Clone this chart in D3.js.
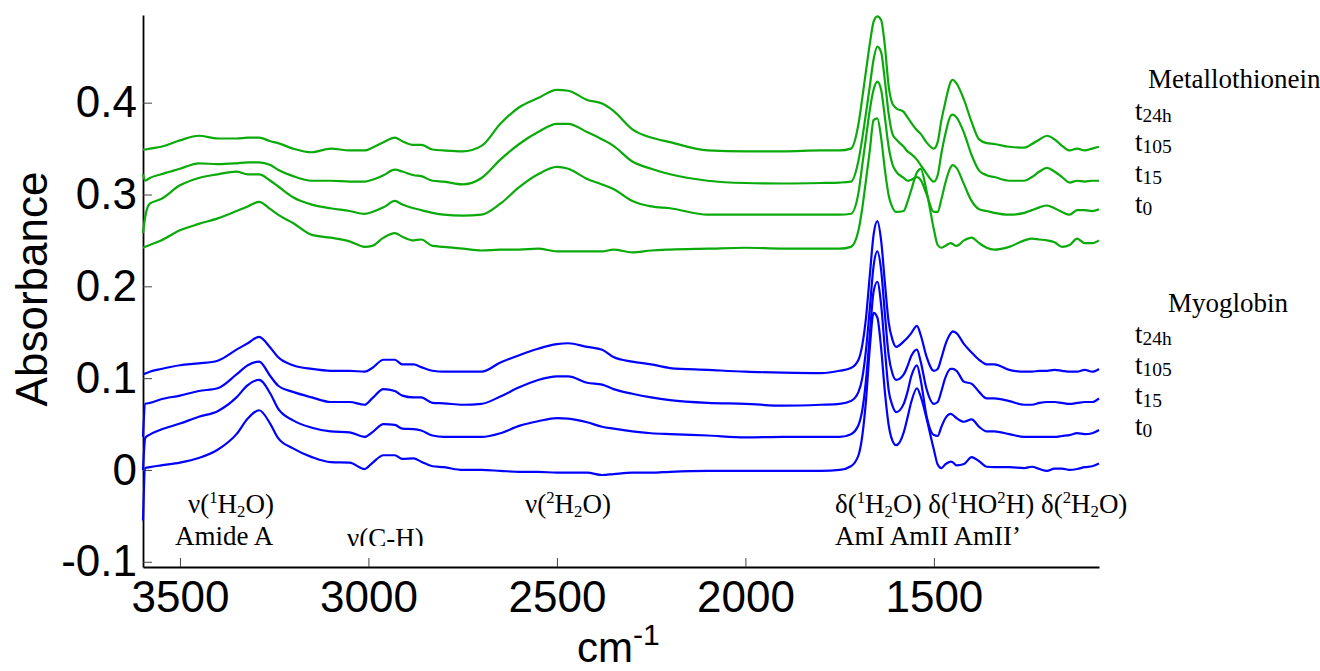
<!DOCTYPE html>
<html>
<head>
<meta charset="utf-8">
<script src="https://cdn.jsdelivr.net/npm/d3@7"></script>
<style>
  body { margin:0; background:#fff; }
  svg { display:block; }
</style>
</head>
<body>
<svg id="chart" width="1320" height="671"></svg>
<script>
// wavenumbers (cm-1) shared by every spectrum, high to low
const wavenumbers=[
  3598,3592,3580,3550,3500,3450,3400,3350,3320,3290,3260,3240,3200,3150,3100,3050,3010,2990,2960,2930,2910,2880,2860,2830,2800,
  2750,2700,2650,2600,2550,2500,2470,2420,2380,2350,2300,2250,2200,2100,2000,1900,1800,1750,
  1720,1700,1690,1680,1670,1660,1650,1640,1630,1620,1610,1600,1580,1570,1560,1545,1535,1520,1500,1490,
  1480,1470,1455,1450,1440,1420,1400,1380,1360,1340,1300,1260,1240,1220,1200,1180,1160,1140,1120,1100,1080,1062
];

// Metallothionein (green)
const mtT24h=[
  .349,.349,.350,.352,.359,.364,.361,.361,.362,.362,.358,.356,.350,.346,.350,.348,.348,.351,.357,.362,.358,.354,.354,.349,.348,
  .347,.353,.377,.395,.405,.414,.413,.403,.399,.391,.371,.362,.357,.348,.347,.347,.348,.348,
  .350,.377,.405,.435,.464,.488,.494,.490,.462,.418,.399,.394,.390,.384,.378,.370,.366,.357,.350,.357,
  .381,.400,.423,.425,.421,.403,.379,.360,.356,.355,.352,.351,.355,.360,.364,.360,.353,.348,.350,.348,.350,.352
];
const mtT105=[
  .322,.315,.318,.322,.328,.334,.333,.334,.335,.335,.332,.327,.320,.315,.315,.314,.314,.316,.321,.327,.325,.321,.320,.315,.314,
  .311,.318,.338,.355,.368,.377,.377,.368,.360,.353,.336,.328,.322,.315,.3125,.312,.3125,.313,
  .314,.337,.361,.389,.418,.447,.461,.455,.424,.388,.366,.360,.352,.347,.344,.338,.332,.323,.314,.321,
  .345,.365,.386,.387,.384,.367,.343,.326,.321,.319,.315,.315,.319,.325,.329,.325,.319,.313,.315,.314,.315,.315
];
const mtT15=[
  .258,.276,.290,.295,.310,.318,.322,.325,.322,.322,.315,.309,.297,.289,.285,.282,.279,.281,.286,.293,.289,.285,.283,.280,.278,
  .277,.278,.290,.308,.322,.330,.328,.317,.311,.306,.293,.287,.285,.278,.278,.278,.278,.278,
  .279,.302,.332,.362,.392,.414,.423,.414,.384,.352,.333,.325,.318,.315,.316,.319,.316,.301,.281,.281,
  .295,.312,.330,.332,.329,.311,.293,.284,.282,.280,.278,.280,.283,.286,.288,.285,.281,.278,.283,.283,.282,.284
];
const mtT0=[
  .242,.243,.245,.250,.261,.268,.274,.282,.287,.292,.284,.278,.269,.256,.253,.249,.243,.244,.253,.258,.254,.250,.251,.244,.243,
  .241,.239,.240,.240,.241,.238,.238,.238,.238,.240,.237,.239,.240,.241,.242,.241,.241,.241,
  .243,.261,.285,.316,.348,.381,.383,.362,.327,.299,.286,.281,.282,.292,.305,.324,.328,.305,.262,.245,
  .242,.244,.247,.246,.244,.250,.253,.247,.242,.240,.243,.250,.252,.251,.250,.248,.243,.245,.252,.247,.247,.250
];

// Myoglobin (blue)
const mbT24h=[
  .104,.105,.107,.110,.114,.116,.119,.131,.138,.145,.133,.123,.114,.110,.108,.108,.107,.111,.120,.120,.115,.115,.112,.108,.107,
  .107,.107,.117,.125,.132,.137,.138,.134,.131,.123,.118,.115,.111,.109,.107,.106,.1055,.108,
  .111,.120,.136,.166,.212,.256,.271,.250,.204,.161,.142,.134,.140,.144,.149,.157,.147,.124,.108,.110,
  .122,.136,.149,.151,.149,.137,.128,.120,.115,.115,.109,.107,.107,.108,.108,.109,.108,.107,.107,.109,.107,.110
];
const mbT105=[
  .036,.072,.073,.077,.081,.086,.089,.104,.114,.118,.102,.092,.085,.079,.074,.074,.071,.078,.088,.086,.081,.079,.079,.073,.0725,
  .071,.072,.080,.090,.098,.102,.102,.095,.093,.088,.083,.079,.076,.073,.072,.070,.071,.072,
  .075,.085,.100,.131,.176,.222,.238,.218,.170,.125,.105,.098,.104,.113,.124,.131,.118,.089,.072,.074,
  .086,.100,.110,.110,.108,.096,.094,.085,.078,.078,.075,.071,.071,.073,.074,.074,.073,.072,.073,.074,.074,.078
];
const mbT15=[
  .000,.035,.0385,.044,.0505,.058,.064,.079,.0925,.098,.083,.067,.054,.046,.042,.041,.036,.041,.050,.049,.045,.0445,.043,.0375,.036,
  .036,.036,.040,.048,.053,.0565,.056,.052,.047,.045,.042,.040,.039,.0375,.0355,.036,.036,.036,
  .039,.049,.065,.098,.147,.194,.205,.180,.131,.087,.070,.063,.072,.085,.102,.114,.098,.060,.038,.037,
  .047,.056,.061,.060,.0565,.0525,.055,.047,.042,.042,.039,.036,.036,.036,.036,.036,.037,.038,.040,.039,.040,.0435
];
const mbT0=[
  -.055,.002,.003,.005,.008,.013,.022,.039,.056,.065,.050,.035,.0235,.014,.0085,.008,.001,.0075,.016,.016,.012,.0125,.009,.004,.003,
  .000,.000,-.001,-.002,-.002,-.003,-.003,-.003,-.0055,-.0045,-.003,-.003,-.002,-.001,-.001,-.001,-.001,.000,
  .004,.016,.037,.076,.133,.171,.166,.133,.085,.049,.032,.027,.041,.057,.074,.089,.080,.057,.022,.006,
  .002,.006,.009,.0085,.005,.0065,.014,.0095,.0035,.003,.003,.002,.0035,.001,-.001,.0015,.0015,.000,.001,.003,.004,.007
];

const timeLabels=["24h","105","15","0"];
const yTicks=[-0.1,0,0.1,0.2,0.3,0.4];
const xTicks=[3500,3000,2500,2000,1500];

const metallothionein=[mtT24h,mtT105,mtT15,mtT0];
const myoglobin=[mbT24h,mbT105,mbT15,mbT0];

const sans="'Liberation Sans', Arial, sans-serif";
const serif="'Liberation Serif', 'Times New Roman', serif";
const greenColor="#0aaa0a";
const blueColor="#0000ff";
const noteSize=27;

const svg=d3.select("#chart");

const x=d3.scaleLinear().domain([3598,1062]).range([143,1099]);
const y=d3.scaleLinear().domain([-0.1057,0.4955]).range([567,15]);

// axes (ticks point inward)
const yAxisG=svg.append("g").attr("transform","translate(143,0)")
  .call(d3.axisLeft(y).tickValues(yTicks).tickFormat(d=>String(d))
    .tickSizeInner(-9).tickSizeOuter(0).tickPadding(6));
const xAxisG=svg.append("g").attr("transform","translate(0,567)")
  .call(d3.axisBottom(x).tickValues(xTicks).tickFormat(d=>String(d))
    .tickSizeInner(-9).tickSizeOuter(0).tickPadding(14));

[yAxisG,xAxisG].forEach(g=>{
  g.attr("font-size",44).attr("font-family",sans);
  g.select(".domain").attr("stroke","#000").attr("stroke-width",1.8);
  g.selectAll(".tick line").attr("stroke","#444").attr("stroke-width",1);
  g.selectAll(".tick text").attr("fill","#000");
});

// spectra
const line=d3.line()
  .x((d,i)=>x(wavenumbers[i]))
  .y(d=>y(d))
  .curve(d3.curveMonotoneX);

function drawGroup(series, color) {
  svg.append("g").selectAll("path").data(series).join("path")
    .attr("d",line)
    .attr("fill","none")
    .attr("stroke",color)
    .attr("stroke-width",2.2)
    .attr("stroke-linejoin","round");
}
drawGroup(metallothionein,greenColor);
drawGroup(myoglobin,blueColor);

// text with super/subscripts
function richText(g, px, py, parts, size) {
  const t=g.append("text").attr("x",px).attr("y",py)
    .attr("font-family",serif).attr("font-size",size).attr("fill","#000");
  let shift=0;
  parts.forEach(([s,kind])=>{
    let target=0, fs=size;
    if (kind==="sup") { target=-0.36*size; fs=size*0.62; }
    if (kind==="sub") { target=0.16*size; fs=size*0.62; }
    if (kind==="lsub") { target=0.08*size; fs=size*0.72; }
    t.append("tspan").attr("dy",target-shift).attr("font-size",fs).text(s);
    shift=target;
  });
  return t;
}

const notes=svg.append("g");
richText(notes,188,513,[["ν(",0],["1","sup"],["H",0],["2","sub"],["O)",0]],noteSize);
richText(notes,175,545,[["Amide A",0]],noteSize);

svg.append("clipPath").attr("id","cut").append("rect")
  .attr("x",0).attr("y",0).attr("width",1320).attr("height",546);
richText(notes,347,547,[["ν(C-H)",0]],noteSize).attr("clip-path","url(#cut)");

richText(notes,525,513,[["ν(",0],["2","sup"],["H",0],["2","sub"],["O)",0]],noteSize);
richText(notes,835,513,[
  ["δ(",0],["1","sup"],["H",0],["2","sub"],["O) δ(",0],["1","sup"],["HO",0],["2","sup"],["H) δ(",0],
  ["2","sup"],["H",0],["2","sub"],["O)",0]
],noteSize);
richText(notes,835,545,[["AmI AmII AmII’",0]],noteSize);

// legends
richText(notes,1148,88,[["Metallothionein",0]],noteSize);
timeLabels.forEach((lab,i)=>{
  richText(notes,1135,120+31*i,[["t",0],[lab,"lsub"]],noteSize);
});
richText(notes,1168,312,[["Myoglobin",0]],noteSize);
timeLabels.forEach((lab,i)=>{
  richText(notes,1135,343+30.7*i,[["t",0],[lab,"lsub"]],noteSize);
});

// axis titles
svg.append("text")
  .attr("transform","translate(47,289) rotate(-90)")
  .attr("text-anchor","middle")
  .attr("font-family",sans).attr("font-size",44)
  .text("Absorbance");

const xt=svg.append("text").attr("x",577).attr("y",662)
  .attr("font-family",sans).attr("font-size",42);
xt.append("tspan").text("cm");
xt.append("tspan").attr("dy",-17).attr("font-size",30).text("-1");
</script>
</body>
</html>
